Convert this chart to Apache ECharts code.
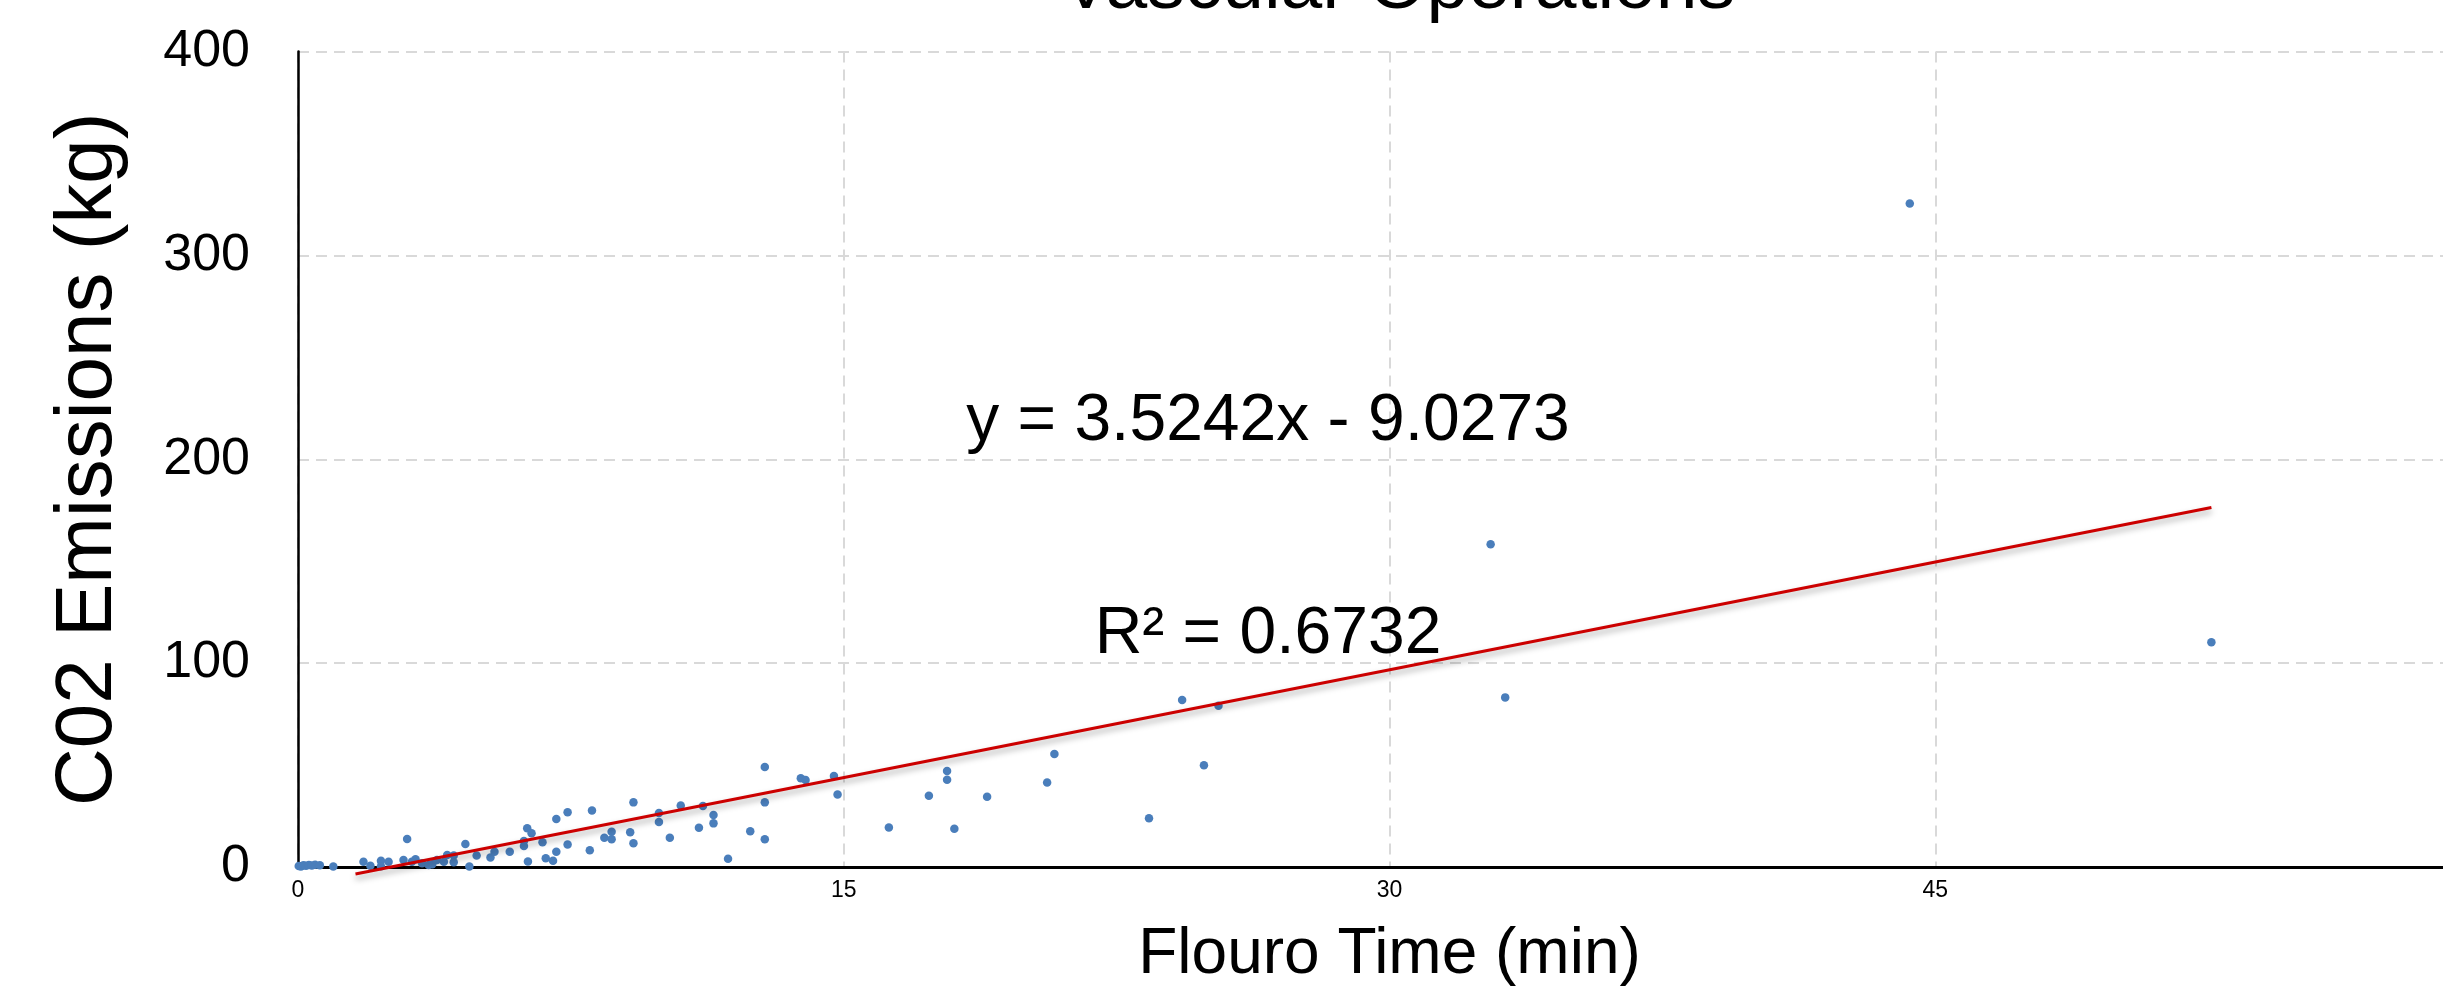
<!DOCTYPE html>
<html>
<head>
<meta charset="utf-8">
<script src="https://cdn.jsdelivr.net/npm/echarts@6/dist/echarts.min.js"></script>
<style>
html,body{margin:0;padding:0;background:#fff;}
#chart{width:2443px;height:987px;}
</style>
</head>
<body>
<div id="chart"></div>
<script>
// Data
const flouroTime = [0.02,0.08,0.15,0.22,0.30,0.38,0.47,0.60,0.97,
  1.80,1.99,2.28,2.28,2.49,3.00,2.90,3.13,3.23,3.41,3.59,3.69,3.82,4.01,4.10,4.28,4.28,4.60,4.71,4.91,
  5.29,5.40,5.82,6.21,6.21,6.30,6.42,6.32,6.72,6.81,7.01,7.10,7.10,7.41,7.41,8.02,8.08,8.42,8.62,8.62,
  9.13,9.22,9.22,9.92,9.92,10.22,10.52,11.02,11.13,11.42,11.42,11.82,12.43,12.83,12.83,12.83,13.82,13.95,
  14.73,14.83,16.24,17.34,17.84,17.84,18.04,18.94,20.59,20.79,23.39,24.30,24.90,25.30,32.78,33.18,44.30,52.59];
const co2Emissions = [0.5,0.3,0.8,0.6,1.0,0.7,1.1,0.8,0.2,
  2.6,0.6,3.1,0.4,2.6,13.7,3.4,2.6,3.8,1.8,1.0,1.3,3.4,2.6,5.9,5.6,2.3,11.3,0.2,5.6,
  4.7,7.5,7.5,12.7,10.3,19.0,16.5,2.7,12.1,4.3,3.1,7.5,23.5,26.8,11.0,8.2,27.7,14.4,17.3,13.6,
  17.0,31.7,11.6,26.5,22.1,14.4,30.2,19.3,29.9,25.5,21.4,4.1,17.5,49.0,31.7,13.6,43.5,42.7,
  44.6,35.6,19.4,35.0,47.1,42.8,18.8,34.4,41.5,55.4,23.9,81.9,49.9,79.1,158.3,83.2,325.5,110.2];
const xTicks = [0, 15, 30, 45, 60];
const yTicks = [0, 100, 200, 300, 400];
// Linear trendline shown on the chart
const trendSlope = 3.5242;
const trendIntercept = -9.0273;
const trendRange = [1.58, 52.59];
const equationText = 'y = 3.5242x - 9.0273';
const r2Text = 'R\u00B2 = 0.6732';
const titleText = 'Vascular Operations';
const xName = 'Flouro Time (min)';
const yName = 'C02 Emissions (kg)';

const points = flouroTime.map((x, i) => [x, co2Emissions[i]]);
const trendPoints = trendRange.map(x => [x, trendSlope * x + trendIntercept]);

const FONT = "'Liberation Sans', Arial, sans-serif";
const chart = echarts.init(document.getElementById('chart'));
const gridLine = {show: true, lineStyle: {color: '#d9d9d9', width: 2, type: [11, 7]}};
chart.setOption({
  backgroundColor: '#fff',
  animation: false,
  title: {
    text: titleText,
    left: 1393,
    textAlign: 'center',
    top: -55,
    textStyle: {fontFamily: FONT, fontSize: 75, fontWeight: 'normal', color: '#000'}
  },
  grid: {left: 298, top: 51.5, bottom: 120, right: -38, containLabel: false, outerBoundsMode: 'none'},
  xAxis: {
    type: 'value',
    min: xTicks[0], max: xTicks[xTicks.length - 1], interval: xTicks[1] - xTicks[0],
    axisLine: {show: true, lineStyle: {color: '#000', width: 3}},
    axisTick: {show: false},
    axisLabel: {fontFamily: FONT, fontSize: 23, color: '#000', margin: 12},
    splitLine: gridLine,
    name: xName, nameLocation: 'middle', nameGap: 56,
    nameTextStyle: {fontFamily: FONT, fontSize: 64, color: '#000'}
  },
  yAxis: {
    type: 'value',
    min: yTicks[0], max: yTicks[yTicks.length - 1], interval: yTicks[1] - yTicks[0],
    axisLine: {show: true, lineStyle: {color: '#000', width: 2.5}},
    axisTick: {show: false},
    axisLabel: {fontFamily: FONT, fontSize: 52, color: '#000', margin: 48},
    splitLine: gridLine,
    name: yName, nameLocation: 'middle', nameGap: 169,
    nameTextStyle: {fontFamily: FONT, fontSize: 80, color: '#000'}
  },
  series: [
    {
      type: 'scatter', data: points, symbolSize: 8.5,
      itemStyle: {color: '#4a7ebb', opacity: 1}, z: 3
    },
    {
      type: 'line', data: trendPoints, showSymbol: false, clip: false,
      lineStyle: {color: '#cc0000', width: 3, shadowColor: 'rgba(0,0,0,0.35)', shadowBlur: 6, shadowOffsetY: 4},
      z: 4
    }
  ],
  graphic: [
    {type: 'text', x: 1268, y: 422, z: 10,
      style: {text: equationText, fontFamily: FONT, fontSize: 66, fill: '#000', align: 'center', verticalAlign: 'middle'}},
    {type: 'text', x: 1268, y: 635, z: 10,
      style: {text: r2Text, fontFamily: FONT, fontSize: 66, fill: '#000', align: 'center', verticalAlign: 'middle'}}
  ]
});
</script>
</body>
</html>
